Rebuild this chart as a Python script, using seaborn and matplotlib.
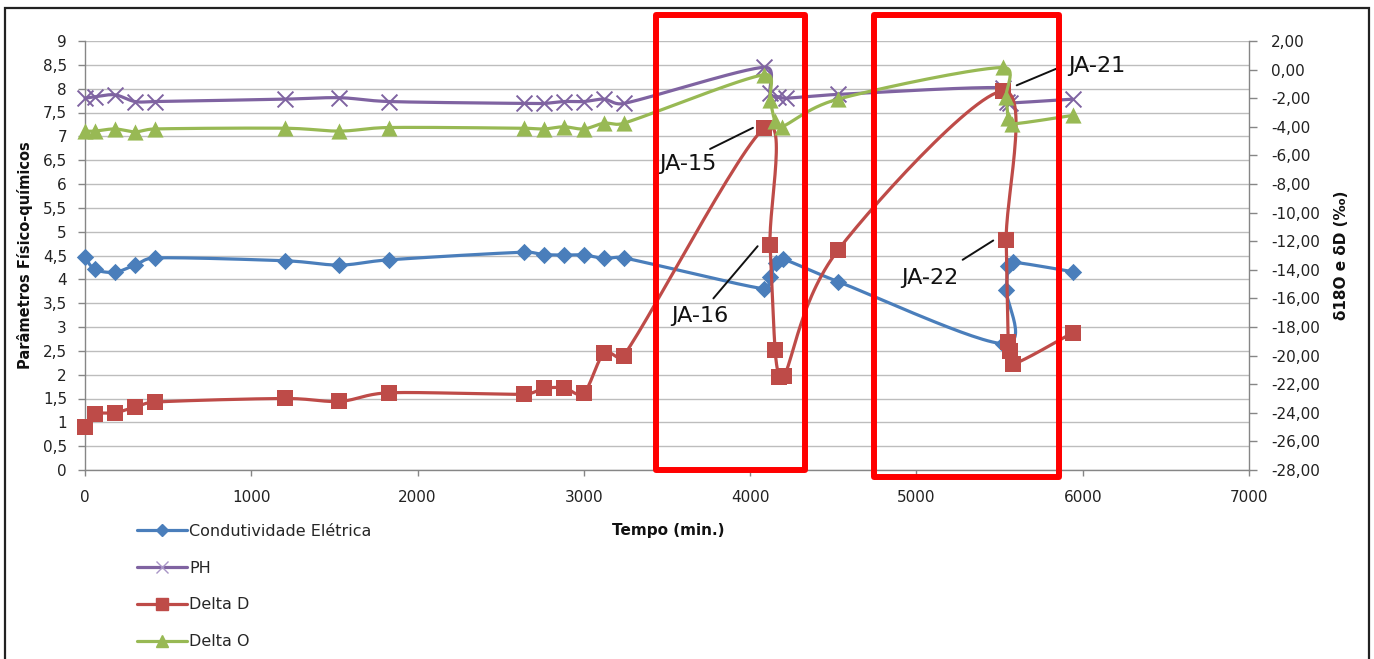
import numpy as np
import pandas as pd
import matplotlib
matplotlib.use("Agg")
import matplotlib.pyplot as plt
import matplotlib.transforms as mtransforms
from matplotlib.lines import Line2D
from matplotlib.patches import Rectangle
import seaborn as sns

# ---------------- data ----------------
# Condutividade elétrica (left axis)
t_ce = [0, 60, 180, 300, 420, 1200, 1530, 1830, 2640, 2760, 2880, 3000, 3120, 3240,
        4085, 4120, 4155, 4200, 4530, 5520, 5540, 5552, 5582, 5940]
ce = [4.46, 4.21, 4.15, 4.30, 4.45, 4.39, 4.30, 4.41, 4.57, 4.52, 4.51, 4.51, 4.44, 4.45,
      3.80, 4.04, 4.34, 4.42, 3.95, 2.65, 3.78, 4.27, 4.36, 4.16]

# pH (left axis)
t_ph = [0, 60, 180, 300, 420, 1200, 1530, 1830, 2640, 2760, 2880, 3000, 3120, 3240,
        4085, 4120, 4170, 4215, 4530, 5520, 5545, 5565, 5940]
ph = [7.80, 7.83, 7.87, 7.73, 7.73, 7.78, 7.81, 7.73, 7.69, 7.69, 7.73, 7.73, 7.78, 7.69,
      8.45, 7.90, 7.83, 7.80, 7.88, 8.02, 7.72, 7.70, 7.78]

# Delta D (right axis, per mil)
t_dd = [0, 60, 180, 300, 420, 1200, 1530, 1830, 2640, 2760, 2880, 3000, 3120, 3240,
        4085, 4120, 4150, 4175, 4205, 4530, 5520, 5540, 5552, 5560, 5582, 5940]
delta_d = [-25.0, -24.1, -24.0, -23.6, -23.25, -23.0, -23.2, -22.6, -22.7, -22.3, -22.25,
           -22.6, -19.85, -20.0, -4.1, -12.3, -19.6, -21.5, -21.45, -12.6, -1.5, -11.95,
           -19.05, -19.7, -20.6, -18.4]

# Delta O (right axis, per mil)
t_do = [0, 60, 180, 300, 420, 1200, 1530, 1830, 2640, 2760, 2880, 3000, 3120, 3240,
        4085, 4120, 4150, 4190, 4530, 5520, 5540, 5552, 5575, 5940]
delta_o = [-4.3, -4.3, -4.15, -4.35, -4.15, -4.1, -4.3, -4.05, -4.1, -4.15, -4.0, -4.15,
           -3.75, -3.75, -0.35, -2.15, -3.6, -4.0, -2.06, 0.15, -1.9, -3.4, -3.8, -3.2]

series_labels = ["Condutividade Elétrica", "PH", "Delta D", "Delta O"]

left_ticks = np.arange(0, 9.01, 0.5)
right_ticks = np.arange(-28, 2.01, 2)
x_ticks = np.arange(0, 7001, 1000)

# sampled windows highlighted with red frames (time range)
windows = [(3435, 4330), (4745, 5857)]

# sample labels: (text, text pos, leader start, leader end) on the isotope axis
sample_notes = [
    ("JA-15", (3626, -6.6), (3759, -5.55), (4017, -4.07)),
    ("JA-16", (3698, -17.2), (3779, -16.0), (4045, -12.35)),
    ("JA-21", (6086, 0.25), (5603, -1.1), (5843, 0.07)),
    ("JA-22", (5082, -14.55), (5278, -13.3), (5462, -11.95)),
]

# ---------------- style ----------------
C_BLUE = "#4A7EBB"
C_PURPLE = "#7F63A1"
C_RED = "#BE4B48"
C_GREEN = "#98B954"
C_AXIS = "#868686"
C_GRID = "#BDBDBD"

sns.set_style("white")
plt.rcParams["font.family"] = ["DejaVu Sans"]

W, H = 1374, 659
fig = plt.figure(figsize=(W / 100, H / 100), dpi=100)
ax_l, ax_r, ax_b, ax_t = 85, 1249, 470, 41
ax = fig.add_axes([ax_l / W, 1 - ax_b / H, (ax_r - ax_l) / W, (ax_b - ax_t) / H])
ax2 = ax.twinx()

X_MAX = 7000
AX_WPX, AX_HPX = ax_r - ax_l, ax_b - ax_t


def smooth(t, v, y_span, n=30, limit=0.5):
    """Smoothed curve through the points: cubic Bezier segments with
    Catmull-Rom tangents, the handle length capped relative to the segment
    length; computed in screen-proportional space."""
    sx = AX_WPX / X_MAX
    sy = AX_HPX / y_span
    P = np.column_stack([np.asarray(t, float) * sx, np.asarray(v, float) * sy])
    out = [P[0]]
    s = np.linspace(0, 1, n)[1:, None]

    def handle(vec, seg_len):
        h = vec / 6.0
        ln = np.hypot(*h)
        cap = limit * seg_len
        if ln > cap and ln > 0:
            h = h * cap / ln
        return h

    for i in range(len(P) - 1):
        p0 = P[i - 1] if i > 0 else P[i]
        p1, p2 = P[i], P[i + 1]
        p3 = P[i + 2] if i + 2 < len(P) else P[i + 1]
        seg_len = np.hypot(*(p2 - p1))
        c1 = p1 + handle(p2 - p0, seg_len)
        c2 = p2 - handle(p3 - p1, seg_len)
        seg = ((1 - s) ** 3) * p1 + 3 * ((1 - s) ** 2) * s * c1 \
            + 3 * (1 - s) * (s ** 2) * c2 + (s ** 3) * p2
        out.extend(seg)
    out = np.array(out)
    return pd.DataFrame({"t": out[:, 0] / sx, "v": out[:, 1] / sy})


def draw_series(axis, t, v, y_span, color, marker, size, z):
    curve = smooth(t, v, y_span)
    sns.lineplot(data=curve, x="t", y="v", sort=False, estimator=None, color=color,
                 linewidth=2.3, ax=axis, zorder=z, legend=False, clip_on=False)
    pts = pd.DataFrame({"t": t, "v": v})
    if marker == "x":
        sns.scatterplot(data=pts, x="t", y="v", marker="x", s=size, color=color,
                        linewidth=1.4, ax=axis, zorder=z + 1, legend=False,
                        clip_on=False)
    else:
        sns.scatterplot(data=pts, x="t", y="v", marker=marker, s=size, color=color,
                        edgecolor=color, linewidth=0, ax=axis, zorder=z + 1,
                        legend=False, clip_on=False)


draw_series(ax, t_ce, ce, 9, C_BLUE, "D", 78, 3)
draw_series(ax, t_ph, ph, 9, C_PURPLE, "x", 130, 5)
draw_series(ax2, t_dd, delta_d, 30, C_RED, "s", 128, 3)
draw_series(ax2, t_do, delta_o, 30, C_GREEN, "^", 135, 5)

# ---------------- axes ----------------
ax.set_xlim(0, X_MAX)
ax.set_ylim(0, 9)
ax2.set_ylim(-28, 2)

ax.set_xticks(x_ticks)
ax.set_xticklabels([str(int(v)) for v in x_ticks])
ax.set_yticks(left_ticks)
ax.set_yticklabels([f"{v:g}".replace(".", ",") for v in left_ticks])
ax2.set_yticks(right_ticks)
ax2.set_yticklabels([f"{v:.2f}".replace(".", ",") for v in right_ticks])

ax.yaxis.grid(True, color=C_GRID, linewidth=1.0)
ax.xaxis.grid(False)
ax.set_axisbelow(True)

for a in (ax, ax2):
    a.spines["top"].set_visible(False)
    for sp in a.spines.values():
        sp.set_color(C_AXIS)
        sp.set_linewidth(1.0)
ax.spines["right"].set_visible(False)
ax2.spines["left"].set_visible(False)
ax2.spines["bottom"].set_visible(False)
ax2.spines["right"].set_visible(True)

ax.tick_params(axis="y", which="major", left=True, direction="out", length=5,
               width=1, color=C_AXIS, pad=8, labelsize=11, labelcolor="#222222")
ax.tick_params(axis="x", which="major", bottom=True, direction="out", length=4.5,
               width=1, color=C_AXIS, pad=10, labelsize=11, labelcolor="#222222")
ax2.tick_params(axis="y", which="major", right=True, direction="out", length=5.8,
                width=1, color=C_AXIS, pad=10, labelsize=11, labelcolor="#222222")

ax.set_xlabel("Tempo (min.)", fontsize=11, fontweight="bold", color="#111111")
ax.xaxis.set_label_coords((668 - ax_l) / AX_WPX, (ax_b - 523) / AX_HPX)
ax.set_ylabel("Parâmetros Físico-químicos", fontsize=10.5, fontweight="bold",
              color="#111111")
ax.yaxis.set_label_coords((33 - ax_l) / AX_WPX, 0.5)
ax2.set_ylabel("δ18O e δD (‰)", fontsize=11, fontweight="bold", color="#111111")
ax2.yaxis.set_label_coords((1334 - ax_l) / AX_WPX, 0.5)

# ---------------- sample labels ----------------
for text, pos, start, end in sample_notes:
    ax2.text(pos[0], pos[1], text, fontsize=16, ha="center", va="center",
             color="#111111", zorder=12)
    ax2.annotate("", xy=end, xytext=start,
                 arrowprops=dict(arrowstyle="-", color="#111111", lw=1.4,
                                 shrinkA=0, shrinkB=0), zorder=12)

# ---------------- highlight frames ----------------
blend = mtransforms.blended_transform_factory(ax2.transData, ax2.transAxes)
box_top = (ax_b - 14.5) / AX_HPX
box_bottoms = [0.0, -6.5 / AX_HPX]
for (t0, t1), yb in zip(windows, box_bottoms):
    ax2.add_patch(Rectangle((t0, yb), t1 - t0, box_top - yb, transform=blend,
                            fill=False, edgecolor="#FF0000", linewidth=4.3,
                            joinstyle="round", clip_on=False, zorder=20))

# ---------------- legend ----------------
handles = [
    Line2D([], [], color=C_BLUE, lw=2.3, marker="D", markersize=6, mfc=C_BLUE, mec=C_BLUE),
    Line2D([], [], color=C_PURPLE, lw=2.3, marker="x", markersize=9, mew=1.0,
           mec="#A995C6"),
    Line2D([], [], color=C_RED, lw=2.3, marker="s", markersize=8, mfc=C_RED, mec=C_RED),
    Line2D([], [], color=C_GREEN, lw=2.3, marker="^", markersize=8, mfc=C_GREEN, mec=C_GREEN),
]
fig.legend(handles, series_labels, loc="upper left",
           bbox_to_anchor=(137 / W, 1 - 524 / H), frameon=False, fontsize=11.5,
           handlelength=3.1, handletextpad=0.15, labelspacing=1.36,
           borderpad=0, borderaxespad=0)

# ---------------- chart border ----------------
fig.patches.append(Rectangle((5 / W, -0.05), (1369 - 5) / W, 1.05 - 8 / H,
                             transform=fig.transFigure, fill=False,
                             edgecolor="#222222", linewidth=1.6, zorder=0))

fig.savefig("out.png", dpi=100, facecolor="white")
